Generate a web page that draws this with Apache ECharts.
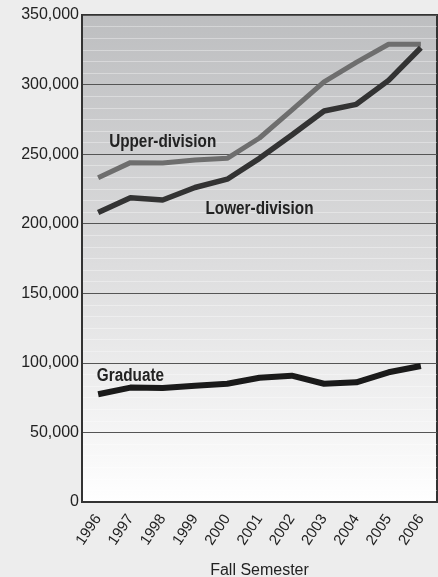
<!DOCTYPE html>
<html><head><meta charset="utf-8">
<script src="https://cdn.jsdelivr.net/npm/echarts@6/dist/echarts.min.js"></script>
<style>html,body{margin:0;padding:0;background:#ededed;}#c{width:438px;height:577px;}</style>
</head><body><div id="c"></div>
<script>
const years = ['1996','1997','1998','1999','2000','2001','2002','2003','2004','2005','2006'];
const upperDivision = [233000, 243900, 243600, 245800, 247000, 261600, 281700, 302000, 316000, 329000, 329000];
const lowerDivision = [208000, 218700, 217000, 226000, 232000, 247000, 263800, 281000, 285800, 303000, 326500];
const graduate = [77400, 82200, 82000, 83600, 85000, 89300, 90800, 85000, 86000, 93200, 97700];
const yTicks = [0, 50000, 100000, 150000, 200000, 250000, 300000, 350000];
const xAxisTitle = 'Fall Semester';
const seriesNames = ['Upper-division', 'Lower-division', 'Graduate'];
// label anchor in data space [category, value]
const labelAnchors = [['1998', 258700], ['2001', 210600], ['1997', 90600]];

const chart = echarts.init(document.getElementById('c'), null, {renderer: 'canvas'});
const fontMain = 'Liberation Sans, Arial, sans-serif';
chart.setOption({
  backgroundColor: '#ededed',
  animation: false,
  grid: {left: 82, right: 1, top: 15, bottom: 75, show: true, borderColor: '#333', borderWidth: 2,
    outerBoundsMode: 'none', containLabel: false,
    backgroundColor: new echarts.graphic.LinearGradient(0, 0, 0, 1, [
      {offset: 0, color: '#bdbec0'}, {offset: 0.5, color: '#dcdcdd'}, {offset: 1, color: '#ffffff'}])},
  xAxis: {
    type: 'category', data: years, boundaryGap: true,
    name: xAxisTitle, nameLocation: 'middle', nameGap: 61,
    nameTextStyle: {fontFamily: fontMain, fontSize: 16, color: '#222'},
    axisLine: {lineStyle: {color: '#333', width: 2}},
    axisTick: {inside: true, length: 9, lineStyle: {color: '#333', width: 1.5}},
    axisLabel: {rotate: 56, fontFamily: fontMain, fontSize: 15, color: '#222', margin: 14}
  },
  yAxis: {
    type: 'value', min: 0, max: 350000, interval: 50000,
    axisLine: {show: true, lineStyle: {color: '#333', width: 2}},
    axisTick: {show: false},
    axisLabel: {fontFamily: fontMain, fontSize: 16, color: '#222', margin: 3,
      formatter: v => v === 0 ? '0' : v.toLocaleString('en-US')},
    splitLine: {lineStyle: {color: '#555', width: 1}},
    minorTick: {show: false, splitNumber: 6},
    minorSplitLine: {show: true, lineStyle: {color: 'rgba(255,255,255,0.35)', width: 1}}
  },
  series: [
    {name: seriesNames[0], type: 'line', data: upperDivision, symbol: 'none',
      lineStyle: {color: '#6e6e6e', width: 5}, z: 3},
    {name: seriesNames[1], type: 'line', data: lowerDivision, symbol: 'none',
      lineStyle: {color: '#333333', width: 5.5}, z: 4},
    {name: seriesNames[2], type: 'line', data: graduate, symbol: 'none',
      lineStyle: {color: '#1a1a1a', width: 6}, z: 4}
  ]
});
const graphics = seriesNames.map((n, i) => {
  const p = chart.convertToPixel({gridIndex: 0}, labelAnchors[i]);
  return {type: 'text', x: p[0], y: p[1], scaleX: 0.85, z: 10,
    style: {text: n, font: 'bold 18px "Liberation Sans", Arial, sans-serif', fill: '#222',
      textAlign: 'center', textVerticalAlign: 'middle'}};
});
chart.setOption({graphic: graphics});
</script></body></html>
